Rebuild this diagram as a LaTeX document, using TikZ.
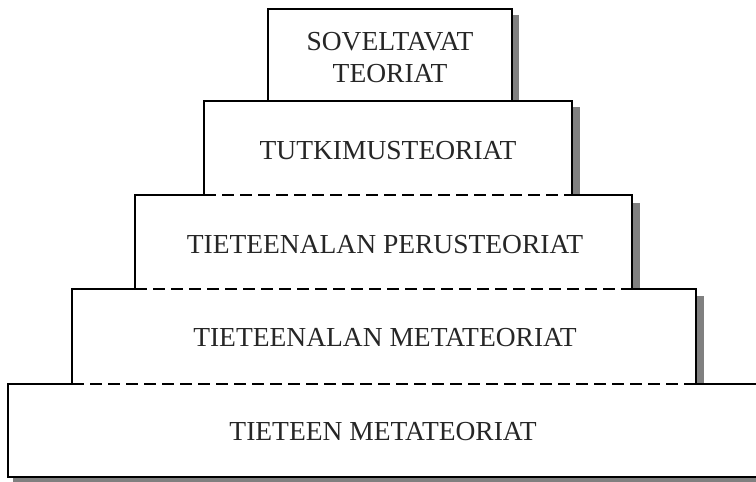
\documentclass[tikz,border=0pt]{standalone}
\usepackage{fontspec}
\setmainfont{Liberation Serif}
\begin{document}
\begin{tikzpicture}[x=1pt,y=-1pt,
  edge/.style={line width=1.2pt, line cap=rect},
  dashedge/.style={line width=1.2pt, dash pattern=on 12pt off 6pt},
  shadowbox/.style={fill=black!50, draw=none},
  label/.style={font=\fontsize{27.5}{32}\selectfont, text=black!85, anchor=base, inner sep=0pt, align=center}]
\useasboundingbox (0,0) rectangle (756,482);
\clip (0,0) rectangle (756,482);
% shadows
\fill[shadowbox] (512,15) rectangle (519,101);
\fill[shadowbox] (572,107) rectangle (580,195);
\fill[shadowbox] (632,203) rectangle (640,289);
\fill[shadowbox] (696,296) rectangle (704,384);
\fill[shadowbox] (13,477) rectangle (770,482);
% box 1
\draw[edge] (268,101) -- (268,9) -- (512,9) -- (512,101);
% box 2
\draw[edge] (204,195) -- (204,101) -- (572,101) -- (572,195);
\draw[dashedge] (204,195) -- (572,195);
% box 3
\draw[edge] (135,289) -- (135,195) -- (204,195);
\draw[edge] (572,195) -- (632,195) -- (632,289);
\draw[dashedge] (135,289) -- (632,289);
% box 4
\draw[edge] (72,384) -- (72,289) -- (135,289);
\draw[edge] (632,289) -- (696,289) -- (696,384);
\draw[dashedge] (72,384) -- (696,384);
% box 5
\draw[edge] (72,384) -- (8,384) -- (8,477) -- (770,477);
\draw[edge] (696,384) -- (770,384);
% labels
\node[label] (soveltavat) at (390,82) {SOVELTAVAT\\TEORIAT};
\node[label] (tutkimus) at (388,159) {TUTKIMUSTEORIAT};
\node[label] (perus) at (385,253) {TIETEENALAN PERUSTEORIAT};
\node[label] (meta) at (385,346) {TIETEENALAN METATEORIAT};
\node[label] (tieteen) at (383,440) {TIETEEN METATEORIAT};
\end{tikzpicture}
\end{document}
